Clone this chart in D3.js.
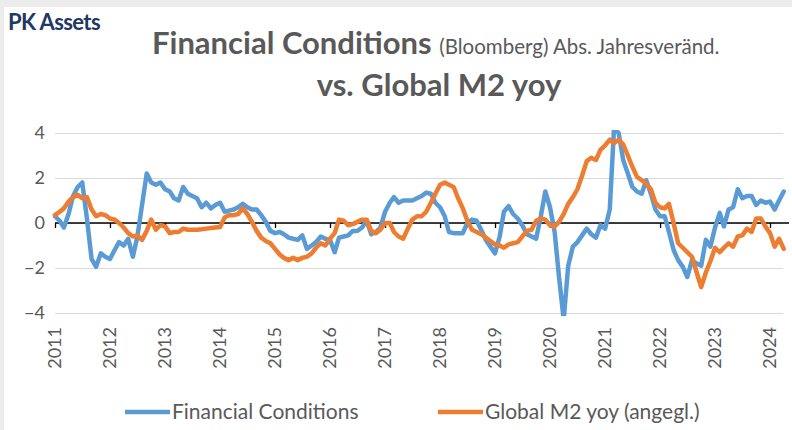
<!DOCTYPE html>
<html>
<head>
<meta charset="utf-8">
<script src="https://cdn.jsdelivr.net/npm/d3@7"></script>
<style>
  body { margin: 0; background: #fff; }
  text { font-family: Lato, "Open Sans", sans-serif; }
</style>
</head>
<body>
<div id="chart"></div>
<script>
// monthly values, starting Jan 2011
const startMonth = new Date(2011, 0, 1);

const fcValues = [
  0.3, 0.1, -0.2, 0.4, 1.2, 1.6, 1.8, 0.2, -1.6, -1.95, -1.35, -1.5,
  -1.6, -1.2, -0.85, -1.0, -0.7, -1.5, -0.6, 0.8, 2.2, 1.8, 1.7, 1.8,
  1.5, 1.4, 1.1, 1.0, 1.6, 1.3, 1.2, 1.1, 0.7, 0.9, 0.65, 0.8,
  0.9, 0.5, 0.55, 0.6, 0.7, 0.85, 0.7, 0.6, 0.6, 0.35, 0.05, -0.35,
  -0.45, -0.4, -0.5, -0.65, -0.7, -0.75, -0.55, -1.15, -1.0, -0.85, -0.6, -0.7,
  -0.75, -1.3, -0.65, -0.6, -0.55, -0.35, -0.35, -0.2, 0.1, -0.5, -0.4, -0.2,
  0.5, 0.9, 1.15, 0.9, 1.0, 1.0, 1.0, 1.1, 1.2, 1.35, 1.3, 0.9,
  0.7, 0.3, -0.4, -0.45, -0.45, -0.45, 0.0, 0.15, 0.1, -0.3, -0.75, -1.05,
  -1.35, -0.6, 0.5, 0.75, 0.4, 0.2, -0.1, -0.5, -0.6, -0.7, 0.3, 1.4,
  0.7, -0.4, -2.4, -4.3, -1.9, -1.05, -0.85, -0.55, -0.25, -0.5, -0.65, -0.1,
  -0.25, 0.6, 4.2, 4.0, 2.8, 2.2, 1.6, 1.4, 1.3, 1.9, 1.3, 0.6,
  0.3, 0.3, -0.4, -1.2, -1.65, -1.95, -2.4, -1.65, -1.8, -1.9, -0.75, -1.05,
  -0.2, 0.45, -0.15, 0.6, 0.7, 1.5, 1.1, 1.2, 1.2, 0.8, 1.0, 0.9,
  0.95, 0.6, 1.0, 1.4
];

const m2Values = [
  0.35, 0.5, 0.65, 0.95, 1.15, 1.25, 1.1, 1.15, 0.6, 0.3, 0.4, 0.35,
  0.2, 0.15, 0.0, -0.2, -0.45, -0.6, -0.55, -0.75, -0.35, 0.15, -0.3, -0.1,
  -0.15, -0.45, -0.4, -0.4, -0.25, -0.3, -0.3, -0.3, -0.28, -0.25, -0.22, -0.2,
  -0.18, 0.25, 0.35, 0.35, 0.4, 0.65, 0.4, 0.05, -0.35, -0.65, -0.8, -0.9,
  -1.15, -1.4, -1.55, -1.65, -1.55, -1.65, -1.55, -1.5, -1.35, -1.1, -0.9, -1.0,
  -0.7, -0.45, 0.15, 0.1, -0.1, -0.05, 0.05, 0.15, 0.15, -0.35, -0.45, -0.3,
  0.0, 0.0, -0.4, -0.6, -0.7, -0.25, 0.15, 0.3, 0.3, 0.5, 0.9, 1.3,
  1.7, 1.8, 1.7, 1.6, 1.1, 0.65, 0.1, -0.3, -0.4, -0.5, -0.65, -0.8,
  -0.95, -1.0, -1.1, -0.95, -0.9, -0.85, -0.6, -0.35, -0.3, 0.1, 0.2, 0.15,
  -0.1, -0.15, 0.05, 0.4, 0.85, 1.15, 1.5, 2.1, 2.75, 2.9, 2.8, 3.25,
  3.45, 3.7, 3.55, 3.7, 3.5, 3.0, 2.5, 2.05, 1.9, 1.75, 1.5, 0.9,
  0.7, 0.65, 0.85, 0.0, -0.9, -1.1, -1.3, -1.5, -2.2, -2.85, -2.2, -1.7,
  -1.1, -1.3, -1.1, -0.9, -1.05, -0.6, -0.55, -0.25, -0.4, 0.2, 0.2, -0.15,
  -0.45, -1.05, -0.7, -1.15
];

const yTicks = [-4, -2, 0, 2, 4];
const years = [2011, 2012, 2013, 2014, 2015, 2016, 2017, 2018, 2019, 2020, 2021, 2022, 2023, 2024];
const seriesNames = ["Financial Conditions", "Global M2 yoy (angegl.)"];
const colors = ["#5b9bd5", "#ed7d31"];

const W = 792, H = 430;
const svg = d3.select("#chart").append("svg")
  .attr("width", W)
  .attr("height", H);

// light frame like the screenshot
svg.append("rect").attr("x", 0).attr("y", 0).attr("width", W).attr("height", 7).attr("fill", "#ececec");
svg.append("rect").attr("x", 0).attr("y", 0).attr("width", 4).attr("height", H).attr("fill", "#ececec");

// titles
svg.append("text")
  .attr("x", 8).attr("y", 30)
  .attr("fill", "#1f3864")
  .style("font-size", "22px").style("font-weight", "bold")
  .style("letter-spacing", "-0.6px")
  .text("PK Assets");

const t1 = svg.append("text")
  .attr("x", 152).attr("y", 54)
  .attr("fill", "#595959");
t1.append("tspan").style("font-size", "31px").style("font-weight", "bold").text("Financial Conditions ");
t1.append("tspan").style("font-size", "20.5px").text("(Bloomberg) Abs. Jahresveränd.");

svg.append("text")
  .attr("x", 439).attr("y", 96)
  .attr("text-anchor", "middle")
  .attr("fill", "#595959")
  .style("font-size", "31px").style("font-weight", "bold")
  .text("vs. Global M2 yoy");

// scales
const x = d3.scaleTime()
  .domain([new Date(2011, 0, 1), new Date(2024, 0, 1)])
  .range([55, 770]);

const y = d3.scaleLinear()
  .domain([-4, 4])
  .range([313, 133]);

const plotRight = 783;

// grid lines + y labels
const yAxis = svg.append("g")
  .attr("transform", "translate(55,0)")
  .call(d3.axisLeft(y).tickValues(yTicks).tickSize(-(plotRight - 55)).tickPadding(10).tickFormat(d3.format("d")));
yAxis.select(".domain").remove();
yAxis.selectAll(".tick line").attr("stroke", "#d9d9d9").attr("stroke-width", 1.2);
yAxis.selectAll(".tick text")
  .attr("fill", "#595959")
  .style("font-size", "18px")
  .style("font-family", "Lato, sans-serif");

// zero line with year ticks
const zeroAxis = svg.append("g")
  .attr("transform", `translate(0,${y(0)})`)
  .call(d3.axisBottom(x).tickValues(years.map(v => new Date(v, 0, 1))).tickSize(5).tickFormat(""));
zeroAxis.select(".domain").attr("d", `M55,0H${plotRight + 6}`).attr("stroke", "#000").attr("stroke-width", 1.6);
zeroAxis.selectAll(".tick line").attr("stroke", "#000").attr("stroke-width", 1.3);

// year labels, rotated
svg.append("g").selectAll("text")
  .data(years)
  .enter()
  .append("text")
  .attr("transform", d => `translate(${x(new Date(d, 0, 1)) + 6},327) rotate(-90)`)
  .attr("text-anchor", "end")
  .attr("fill", "#595959")
  .style("font-size", "18px")
  .text(d => d);

// lines
svg.append("clipPath").attr("id", "plotClip")
  .append("rect")
  .attr("x", 50).attr("y", y(4) - 3)
  .attr("width", plotRight - 45).attr("height", y(-4) - y(4) + 6);

const line = d3.line()
  .x((d, i) => x(d3.timeMonth.offset(startMonth, i)))
  .y(d => y(d));

const lines = svg.append("g").attr("clip-path", "url(#plotClip)");
[fcValues, m2Values].forEach((vals, k) => {
  lines.append("path")
    .datum(vals)
    .attr("fill", "none")
    .attr("stroke", colors[k])
    .attr("stroke-width", 4.5)
    .attr("stroke-linejoin", "round")
    .attr("stroke-linecap", "round")
    .attr("d", line);
});

// legend
const legendPos = [125, 438];
const legend = svg.append("g");
seriesNames.forEach((name, k) => {
  legend.append("line")
    .attr("x1", legendPos[k]).attr("x2", legendPos[k] + 45)
    .attr("y1", 412).attr("y2", 412)
    .attr("stroke", colors[k]).attr("stroke-width", 4.5);
  legend.append("text")
    .attr("x", legendPos[k] + 47).attr("y", 419)
    .attr("fill", "#595959")
    .style("font-size", "21px")
    .text(name);
});
</script>
</body>
</html>
